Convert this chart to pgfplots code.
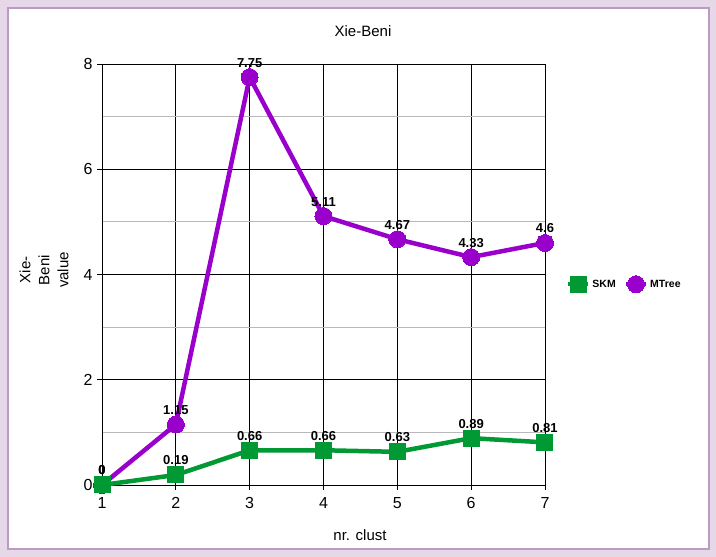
\documentclass[border=0pt]{standalone}
\usepackage{pgfplots}
\pgfplotsset{compat=1.18}
\usepackage{fontspec}
\setmainfont{Liberation Sans}
\definecolor{outerbg}{RGB}{231,216,233}
\definecolor{framec}{RGB}{185,155,195}
\definecolor{skm}{RGB}{0,153,51}
\definecolor{mtree}{RGB}{153,0,204}
\begin{document}
\begin{tikzpicture}[x=1pt,y=1pt]
\fill[outerbg] (0,0) rectangle (716,557);
\draw[framec,line width=1.5pt,fill=white] (8,8) rectangle (709,549);
\node[font=\fontsize{15}{17}\selectfont] at (363,526) {Xie-Beni};
\node[font=\fontsize{15}{17}\selectfont] at (360,22) {nr. clust};
\node[font=\fontsize{15}{19}\selectfont,rotate=90,align=center] at (44,287) {Xie-\\Beni\\value};
\begin{axis}[
  at={(102pt,72pt)}, anchor=south west,
  scale only axis, width=443pt, height=421pt,
  xmin=1, xmax=7, ymin=0, ymax=8,
  xtick={1,...,7}, ytick={0,2,4,6,8},
  minor ytick={1,3,5,7},
  grid=both,
  major grid style={black, line width=0.8pt},
  minor grid style={gray!55, line width=0.8pt},
  axis line style={black, line width=0.8pt},
  tick align=outside, xtick pos=left, ytick pos=left,
  major tick length=5pt, minor tick length=0pt,
  tick style={black, line width=0.8pt},
  /pgf/number format/assume math mode=true,
  ticklabel style={font=\fontsize{16}{18}\selectfont},
  xticklabel style={yshift=-4pt},
  yticklabel style={xshift=-1pt},
  clip=false,
  nodes near coords,
  every node near coord/.append style={font=\fontsize{13}{15}\selectfont\bfseries, anchor=base, yshift=10pt, black},
  legend columns=2,
  reverse legend,
  legend style={at={(1.04,0.477)}, anchor=west, draw=none, fill=none,
    font=\fontsize{10.5}{12}\selectfont\bfseries,
    /tikz/every even column/.append style={column sep=6pt}},
  legend image code/.code={\draw[#1, mark repeat=2, mark phase=2] plot coordinates {(0pt,0pt) (10pt,0pt) (20pt,0pt)};},
]
\addplot[mtree, line width=4.5pt, mark=*, mark size=8.5pt, mark options={solid, line width=0pt}] coordinates {
(1,0) (2,1.15) (3,7.75) (4,5.11) (5,4.67) (6,4.33) (7,4.6)};
\addlegendentry{MTree}
\addplot[skm, line width=4.5pt, mark=square*, mark size=8pt, mark options={solid, line width=0pt}] coordinates {
(1,0) (2,0.19) (3,0.66) (4,0.66) (5,0.63) (6,0.89) (7,0.81)};
\addlegendentry{SKM}
\end{axis}
\end{tikzpicture}
\end{document}
